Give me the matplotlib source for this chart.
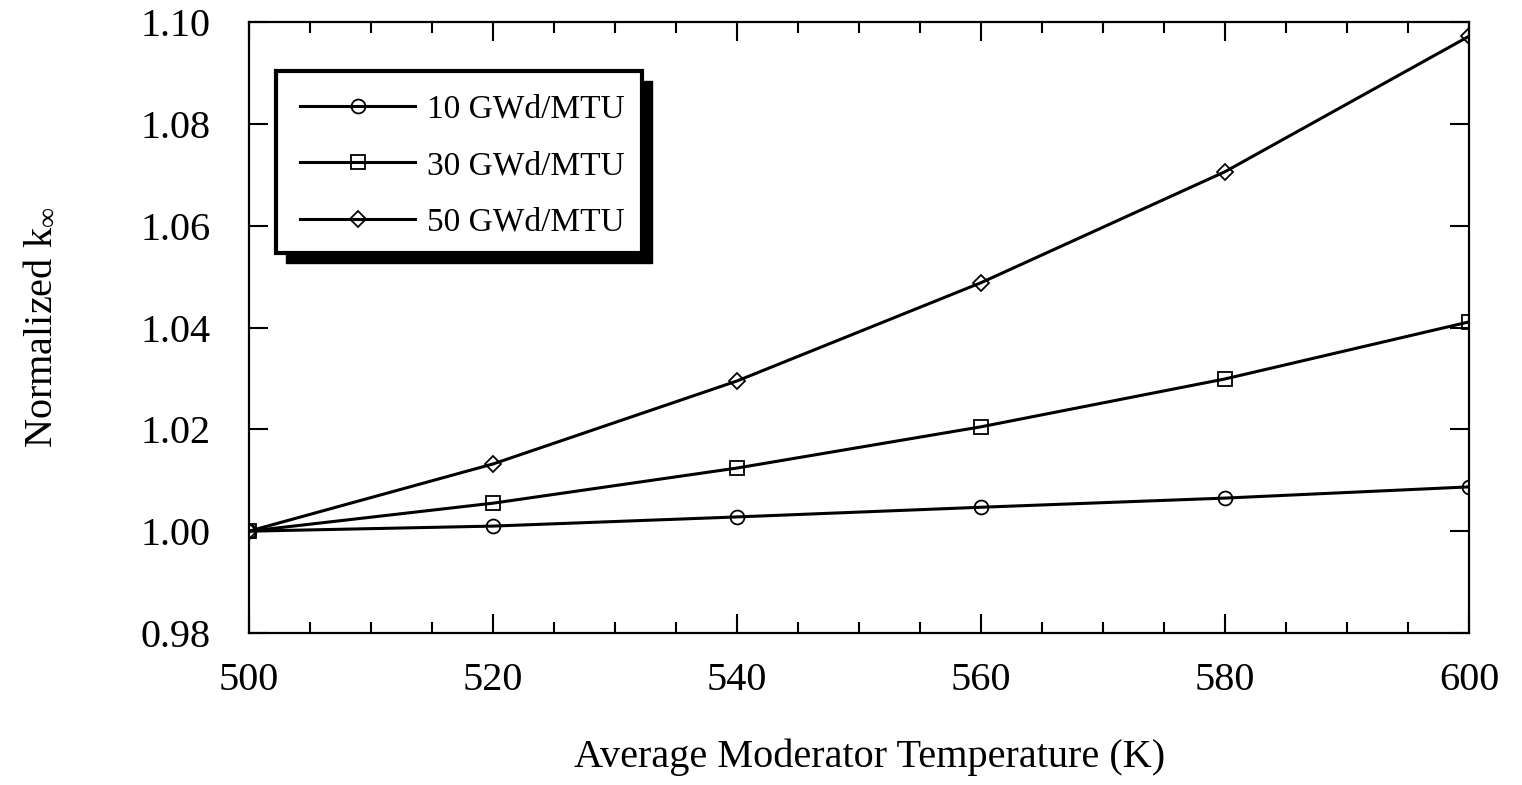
import matplotlib
matplotlib.use("Agg")
import matplotlib.pyplot as plt
from matplotlib.patches import Rectangle
from matplotlib.ticker import MultipleLocator, FormatStrFormatter

plt.rcParams['font.family'] = ['Liberation Serif', 'DejaVu Serif']
plt.rcParams['mathtext.fontset'] = 'custom'
plt.rcParams['mathtext.rm'] = 'Liberation Serif'
plt.rcParams['mathtext.it'] = 'Liberation Serif:italic'

# moderator temperature (K) and normalized k-infinity per burnup
temperature = [500, 520, 540, 560, 580, 600]
k_10 = [1.0000, 1.0010, 1.0028, 1.0047, 1.0065, 1.0087]
k_30 = [1.0000, 1.0055, 1.0124, 1.0205, 1.0299, 1.0411]
k_50 = [1.0000, 1.0132, 1.0295, 1.0488, 1.0706, 1.0972]
labels = ['10 GWd/MTU', '30 GWd/MTU', '50 GWd/MTU']
markers = ['o', 's', 'D']
marker_sizes = [10, 10, 8]

fig = plt.figure(figsize=(15.22, 7.85), dpi=100)
ax = fig.add_axes([0.1636, 0.1936, 0.8016, 0.7784])

for k, lab, m, ms in zip([k_10, k_30, k_50], labels, markers, marker_sizes):
    ax.plot(temperature, k, color='black', linewidth=2.2, marker=m,
            markersize=ms, markerfacecolor='none', markeredgewidth=1.3,
            markeredgecolor='black', label=lab)

ax.set_xlim(500, 600)
ax.set_ylim(0.98, 1.10)
ax.xaxis.set_major_locator(MultipleLocator(20))
ax.xaxis.set_minor_locator(MultipleLocator(5))
ax.yaxis.set_major_locator(MultipleLocator(0.02))
ax.yaxis.set_major_formatter(FormatStrFormatter('%.2f'))

ax.tick_params(axis='both', which='major', direction='in', length=14,
               width=1.5, top=True, right=True, labelsize=29)
ax.tick_params(axis='x', which='minor', direction='in', length=8,
               width=1.5, top=True)
ax.tick_params(axis='x', which='major', pad=21)
ax.tick_params(axis='y', which='major', pad=27.5)
for s in ax.spines.values():
    s.set_linewidth(1.6)

ax.set_xlabel('Average Moderator Temperature (K)', fontsize=29, labelpad=28,
              x=0.509)
ax.set_ylabel(r'Normalized k$_{\infty}$', fontsize=29, labelpad=59)

# legend box with a solid drop shadow
ax.add_patch(Rectangle((0.030, 0.606), 0.300, 0.298, transform=ax.transAxes,
                       facecolor='black', edgecolor='black', zorder=5))
ax.add_patch(Rectangle((0.022, 0.622), 0.300, 0.298, transform=ax.transAxes,
                       facecolor='white', edgecolor='black', linewidth=3,
                       zorder=6))
leg = ax.legend(loc='upper left', bbox_to_anchor=(0.020, 0.925),
                frameon=False, fontsize=24, handlelength=3.45,
                handletextpad=0.36, labelspacing=0.77, borderpad=0.3)
leg.set_zorder(7)

fig.savefig('out.png', dpi=100)
